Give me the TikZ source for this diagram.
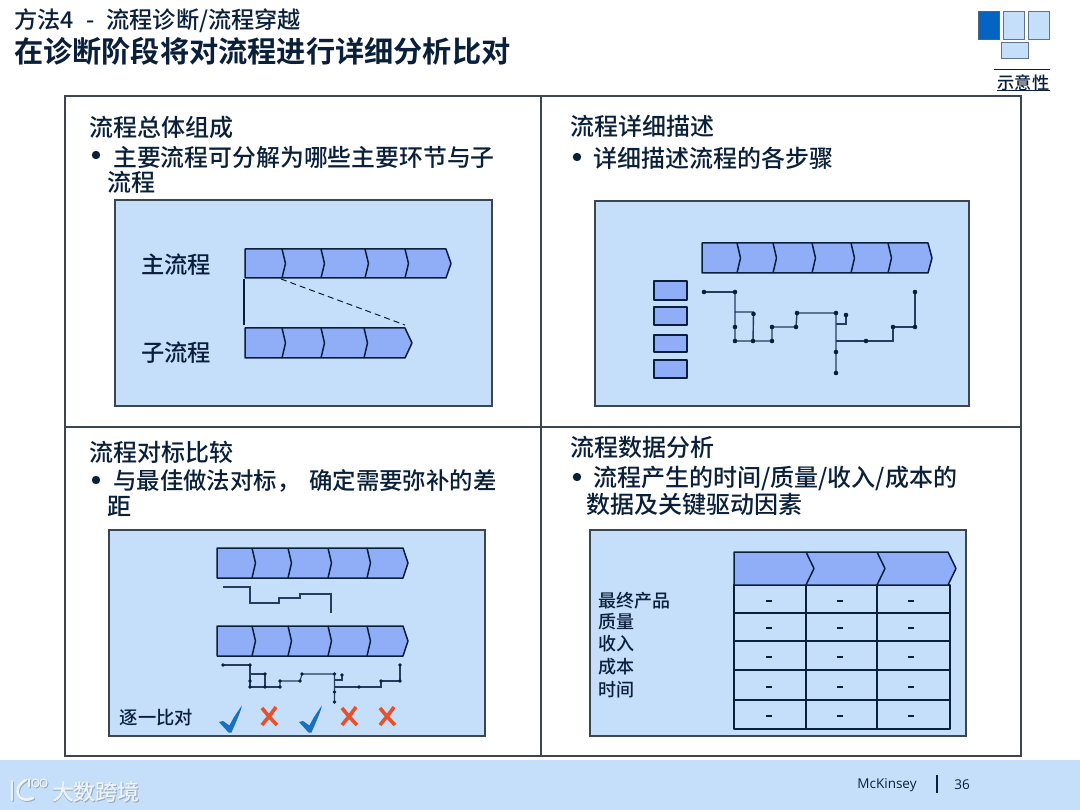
\documentclass[tikz,border=0pt]{standalone}
\usepackage{fontspec}
\setmainfont{Noto Sans CJK SC Medium}[BoldFont={Noto Sans CJK SC Bold}]
\newfontfamily\latinf{Open Sans}
\definecolor{ink}{HTML}{0A1F3A}
\definecolor{panelblue}{HTML}{C5DEF9}
\definecolor{chevblue}{HTML}{8FAEF7}
\definecolor{framegray}{HTML}{3C4650}
\definecolor{tickblue}{HTML}{1A6FBF}
\definecolor{crossred}{HTML}{E8502A}
\definecolor{iconblue}{HTML}{0563C1}
\definecolor{iconline}{HTML}{5F7488}
\definecolor{wm}{HTML}{EDF3F9}
\definecolor{wmshadow}{HTML}{93A8BC}
\tikzset{
  x=1pt,y=-1pt,
  txt/.style={anchor=west,inner sep=0pt,text=ink,font=\fontsize{24}{24}\selectfont},
  lab/.style={anchor=center,inner sep=0pt,text=ink,font=\fontsize{23.3}{24}\selectfont},
  small/.style={anchor=west,inner sep=0pt,text=ink,font=\fontsize{18}{18}\selectfont},
  panel/.style={draw=framegray,line width=1.2pt,fill=panelblue},
  chevline/.style={draw=ink,line width=1.5pt,line join=round},
  netline/.style={draw=ink!80!chevblue,line width=1.4pt},
  netthin/.style={draw=ink!80!chevblue,line width=1.1pt},
  cross/.style={draw=crossred,line width=3.6pt},
  tick/.style={fill=tickblue,draw=none},
  icon/.style={draw=iconline,line width=1pt,fill=panelblue},
}
% #1 left, #2 top, #3 bottom, #4 divider xs, #5 body end, #6 tip end, #7 divider depth
\newcommand{\chevrow}[7]{%
  \pgfmathsetmacro{\ymid}{(#2+#3)/2}%
  \draw[chevline,fill=chevblue] (#1,#2) -- (#5,#2) -- (#6,\ymid) -- (#5,#3) -- (#1,#3) -- cycle;
  \foreach \d in {#4} {\draw[chevline] (\d,#2) -- (\d+#7,\ymid) -- (\d,#3);}
}
\begin{document}
\begin{tikzpicture}
\useasboundingbox (0,0) rectangle (1080,810);
\fill[white] (0,0) rectangle (1080,810);
% footer
\fill[panelblue] (0,760) rectangle (1080,810);
\node[inner sep=0pt,text=ink,font=\latinf\fontsize{13.5}{14}\selectfont] (brand) at (887,785) {McKinsey};
\draw[ink,line width=1.2pt] (937,775) -- (937,793);
\node[inner sep=0pt,text=ink,font=\latinf\fontsize{13.5}{14}\selectfont] (page) at (962,785) {36};
% watermark
\foreach \off/\col in {0.9/wmshadow,0/wm} {
  \begin{scope}[shift={(\off,\off)}]
  \node[inner sep=0pt,text=\col,font=\fontsize{22}{22}\selectfont] at (96,792) {大数跨境};
  \draw[\col,line width=2.6pt,line cap=round] (12,781) -- (12,800);
  \draw[\col,line width=2.6pt,line cap=round] (33,798) .. controls (23,803) and (16,796) .. (18,789) .. controls (19,785) and (22,782) .. (26,780);
  \draw[\col,line width=1.2pt,line cap=round] (29,779) -- (29,787);
  \draw[\col,line width=1.2pt] (35.5,783) ellipse [x radius=3.5,y radius=4];
  \draw[\col,line width=1.2pt] (43.5,783) ellipse [x radius=3.5,y radius=4];
  \end{scope}
}
% header
\node[anchor=west,inner sep=0pt,text=ink,font=\fontsize{23.2}{24}\selectfont] (title1) at (14,21) {方法4\hspace{0.3em} -\hspace{0.3em} 流程诊断/流程穿越};
\node[anchor=west,inner sep=0pt,text=ink,font=\bfseries\fontsize{29.2}{30}\selectfont] (title2) at (14,51) {在诊断阶段将对流程进行详细分析比对};
% icon
\draw[draw=ink!70,line width=1pt,fill=iconblue] (978,12) rectangle (999,40);
\draw[icon] (1003,12) rectangle (1024,40);
\draw[icon] (1028,12) rectangle (1049,40);
\draw[icon] (1001,43) rectangle (1028,59);
\draw[ink,line width=1pt] (994,70) -- (1050,70);
\node[inner sep=0pt,text=ink,font=\fontsize{17.3}{18}\selectfont] (sketch) at (1023.5,83) {示意性};
\draw[ink,line width=1pt] (997,91) -- (1050,91);
% frame
\draw[framegray,line width=1.2pt] (65,96) rectangle (1021,756);
\draw[framegray,line width=1.2pt] (541,96) -- (541,756);
\draw[framegray,line width=1.2pt] (65,427) -- (1021,427);
% panel 1
\node[txt] (h1) at (89,127) {流程总体组成};
\fill[ink] (96,155) circle (4.2pt);
\node[txt,font=\fontsize{23.85}{24}\selectfont] (t1a) at (113,157) {主要流程可分解为哪些主要环节与子};
\node[txt] (t1b) at (107,182) {流程};
\draw[panel] (115,200) rectangle (492,406);
\node[lab] (main) at (176,265) {主流程};
\node[lab] (sub) at (176,353) {子流程};
\chevrow{245}{249}{278}{282,321,365,405}{446}{451}{3.5}
\chevrow{245}{328}{358}{282,321,364}{405}{412}{3.5}
\coordinate (p1a) at (244,279);
\coordinate (p1b) at (244,325);
\coordinate (p1c) at (281,279);
\coordinate (p1d) at (405,325);
\draw[ink,line width=1.2pt] (p1a) -- (p1b);
\draw[ink,line width=1pt,dash pattern=on 6pt off 4pt] (p1c) -- (p1d);
% panel 2
\node[txt] (h2) at (570,126) {流程详细描述};
\fill[ink] (577,157) circle (4.2pt);
\node[txt] (t2a) at (593,158) {详细描述流程的各步骤};
\draw[panel] (595,201) rectangle (969,406);
\chevrow{702}{243}{273}{737,773,812,851,888}{928}{932}{3.5}
\foreach \a/\b in {281/300,307/325,335/352,360/378}
  \draw[chevline,fill=chevblue] (654,\a) rectangle (687,\b);
\foreach \n/\x/\y in {a/704/292,b/735/292,c/735/327,d/735/341,e/753/341,f/772/341,g/753.5/314,h/772/327,i/796/327,j/797/313,k/836/313,l/836/352,m/836/373,o/846/315,q/866/341,r/893/327,s/915/327,t/915/292}
  \coordinate (n\n) at (\x,\y);
\draw[netthin] (na) -- (nb);
\draw[netline] (nb) -- (nd) -- (nf) (735,312) -| (ng) -- (ne);
\draw[netline] (nf) -- (nh) -- (ni) -- (nj) -- (nk) -- (nm);
\draw[netline] (836,324) -| (no);
\draw[netline] (836,341) -- (nq) -- (893,341) -- (nr) -- (ns) -- (nt);
\foreach \n in {a,b,c,d,e,f,g,h,i,j,k,l,m,o,q,r,s,t} \fill[ink] (n\n) circle (2.3pt);
% panel 3
\node[txt] (h3) at (89,452) {流程对标比较};
\fill[ink] (96,480) circle (4.2pt);
\node[txt,font=\fontsize{23.4}{24}\selectfont] (t3a) at (113,481) {与最佳做法对标，\hspace{0.38em}确定需要弥补的差};
\node[txt] (t3b) at (107,506) {距};
\draw[panel] (109,530) rectangle (485,736);
\chevrow{217}{548}{578}{252,288,328,367}{403}{408}{3.5}
\chevrow{217}{626}{656}{252,288,328,367}{403}{408}{3.5}
\coordinate (u0) at (223,587);
\coordinate (u1) at (331,613);
\draw[netthin,line width=1.2pt] (u0) -- (250,587) -- (250,603) -- (279,603) -- (279,598) -- (300,598) -- (300,594) -- (331,594) -- (u1);
\foreach \n/\x/\y in {a/223/665,b/250/665,c/250/681,d/250/687,e/265/687,f/280/687,g/265/674,h/280/681,i/300/681,j/302/674,k/334.5/674,l/334.5/692,m/334.5/702,o/342/675,q/359/687,r/381/681,s/400/681,t/400/665}
  \coordinate (v\n) at (\x,\y);
\draw[netthin] (va) -- (vb) -- (vd) -- (vf) (250,674) -| (vg) -- (ve);
\draw[netthin] (vf) -- (vh) -- (vi) -- (vj) -- (vk) -- (vm);
\draw[netthin] (334.5,680) -| (vo);
\draw[netthin] (334.5,687) -- (vq) -- (381,687) -- (vr) -- (vs) -- (vt);
\foreach \n in {a,b,c,d,e,f,g,h,i,j,k,l,m,o,q,r,s,t} \fill[ink] (v\n) circle (1.8pt);
\node[small,anchor=center,font=\fontsize{18.3}{18}\selectfont] (cmp) at (156.5,718) {逐一比对};
\foreach \dx in {0,80}
  \fill[tick,shift={(\dx,0)}] (219,722) -- (223,721) -- (229.5,725.5) .. controls (233,718) and (238,711) .. (242,705.5) .. controls (240,714) and (235,724) .. (231.5,732.5) -- (228.5,732.5) -- cycle;
\foreach \cx in {269,349,387} {
  \draw[cross] (\cx-7,708) .. controls (\cx-3,713) and (\cx+3,720) .. (\cx+8,725);
  \draw[cross] (\cx+7,707) .. controls (\cx+3,713) and (\cx-3,720) .. (\cx-7,725);
}
% panel 4
\node[txt] (h4) at (570,447) {流程数据分析};
\fill[ink] (577,477) circle (4.2pt);
\node[txt] (t4a) at (593,478) {流程产生的时间/质量/收入/成本的};
\node[txt] (t4b) at (586,504) {数据及关键驱动因素};
\draw[panel] (590,530) rectangle (966,736);
\draw[chevline,fill=panelblue] (734,585) rectangle (950,729);
\foreach \yy in {613,641,670,700} \draw[chevline] (734,\yy) -- (950,\yy);
\foreach \xx in {806,877} \draw[chevline] (\xx,585) -- (\xx,729);
\chevrow{734}{552}{585}{806,877}{948}{956}{8}
\foreach \xx in {769,840,911}
  \foreach \yy in {601,628,657,687,716}
    \draw[ink,line width=1.6pt] (\xx-3,\yy) -- (\xx+3,\yy);
\node[small] (r1) at (598,601) {最终产品};
\node[small] (r2) at (598,622) {质量};
\node[small] (r3) at (598,644) {收入};
\node[small] (r4) at (598,667) {成本};
\node[small] (r5) at (598,690) {时间};
\end{tikzpicture}
\end{document}
